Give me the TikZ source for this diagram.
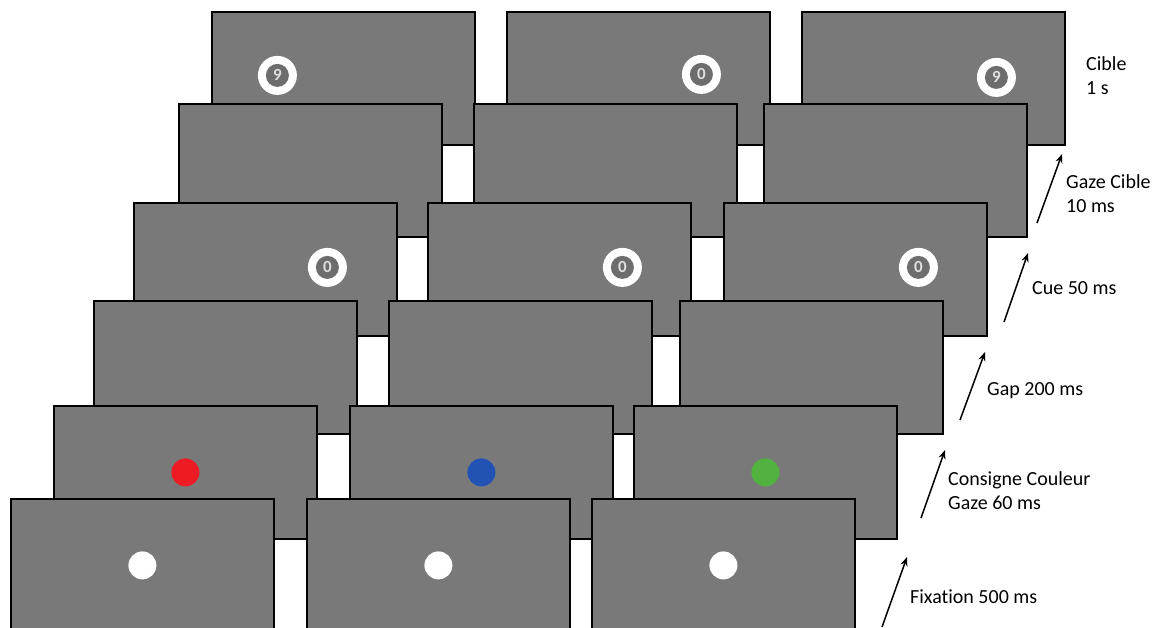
\documentclass[tikz,border=0pt]{standalone}
\usepackage{fontspec}
\setmainfont{Carlito}[Ligatures={NoCommon}]
\usepackage{tikz}
\usetikzlibrary{arrows.meta,calc}
\definecolor{scrgray}{RGB}{121,121,121}
\definecolor{cuered}{RGB}{237,28,36}
\definecolor{cueblue}{RGB}{33,82,180}
\definecolor{cuegreen}{RGB}{82,178,64}

\begin{document}
\begin{tikzpicture}[
  x=1pt, y=-1pt,
  font=\fontsize{20}{24}\selectfont,
  scr/.style={draw=black, fill=scrgray, line width=1.8pt, anchor=north west, inner sep=0pt, minimum width=263pt, minimum height=133pt},
  spot/.style={circle, inner sep=0pt, minimum size=28pt},
  ring/.style={circle, fill=white, inner sep=0pt, minimum size=39pt},
  digit/.style={circle, fill=scrgray!90!black, inner sep=0pt, minimum size=23pt, text=white!75!scrgray, font=\bfseries\fontsize{17}{17}\selectfont},
  lab/.style={anchor=west, align=left, inner sep=0pt},
  arr/.style={-{Stealth[length=9pt, width=7pt]}, line width=1.5pt},
]
\useasboundingbox (0,0) rectangle (1155,628);
% ---- back row: target ----
\node[scr] (cib1) at (211,11) {};
\node[scr] (cib2) at (506,11) {};
\node[scr] (cib3) at (801,11) {};
\node[ring] (tgt1) at ($(cib1.center)+(-66,-3)$) {};
\node[ring] (tgt2) at ($(cib2.center)+(63,-4)$) {};
\node[ring] (tgt3) at ($(cib3.center)+(63,-1)$) {};
\node[digit] (tgtd1) at (tgt1) {9};
\node[digit] (tgtd2) at (tgt2) {0};
\node[digit] (tgtd3) at (tgt3) {9};
% ---- gaze on target ----
\node[scr] (gaze1) at (178,103) {};
\node[scr] (gaze2) at (473,103) {};
\node[scr] (gaze3) at (763,103) {};
% ---- cue ----
\node[scr] (cue1) at (133,202) {};
\node[scr] (cue2) at (427,202) {};
\node[scr] (cue3) at (723,202) {};
\node[ring] (cring1) at ($(cue1.center)+(62,-2)$) {};
\node[ring] (cring2) at ($(cue2.center)+(63,-2)$) {};
\node[ring] (cring3) at ($(cue3.center)+(63,-2)$) {};
\node[digit] (cdig1) at (cring1) {0};
\node[digit] (cdig2) at (cring2) {0};
\node[digit] (cdig3) at (cring3) {0};
% ---- gap ----
\node[scr] (gap1) at (93,300) {};
\node[scr] (gap2) at (388,300) {};
\node[scr] (gap3) at (679,300) {};
% ---- colour instruction ----
\node[scr] (cons1) at (53,405) {};
\node[scr] (cons2) at (349,405) {};
\node[scr] (cons3) at (633,405) {};
\node[spot, fill=cuered] (red) at (cons1.center) {};
\node[spot, fill=cueblue] (blue) at (cons2.center) {};
\node[spot, fill=cuegreen] (green) at (cons3.center) {};
% ---- fixation (front row) ----
\node[scr] (fix1) at (10,498) {};
\node[scr] (fix2) at (306,498) {};
\node[scr] (fix3) at (591,498) {};
\node[spot, fill=white] (wfix1) at (fix1.center) {};
\node[spot, fill=white] (wfix2) at (fix2.center) {};
\node[spot, fill=white] (wfix3) at (fix3.center) {};
% ---- timing labels ----
\node[lab] (lcib) at (1086,76) {Cible\\1 s};
\node[lab] (lgaze) at (1066,194) {Gaze Cible\\10 ms};
\node[lab] (lcue) at (1032,288) {Cue 50 ms};
\node[lab] (lgap) at (987,391) {Gap 200 ms};
\node[lab] (lcons) at (948,491) {Consigne Couleur\\Gaze 60 ms};
\node[lab] (lfix) at (910,597) {Fixation 500 ms};
% ---- time arrows ----
\coordinate (afix) at (882,627);  \coordinate (bfix) at (907,557);
\coordinate (acons) at (921,518); \coordinate (bcons) at (945,450);
\coordinate (agap) at (960,420);  \coordinate (bgap) at (985,352);
\coordinate (acue) at (1004,322); \coordinate (bcue) at (1028,253);
\coordinate (agaze) at (1037,223); \coordinate (bgaze) at (1062,154);
\draw[arr] (afix) -- (bfix);
\draw[arr] (acons) -- (bcons);
\draw[arr] (agap) -- (bgap);
\draw[arr] (acue) -- (bcue);
\draw[arr] (agaze) -- (bgaze);
\end{tikzpicture}
\end{document}
